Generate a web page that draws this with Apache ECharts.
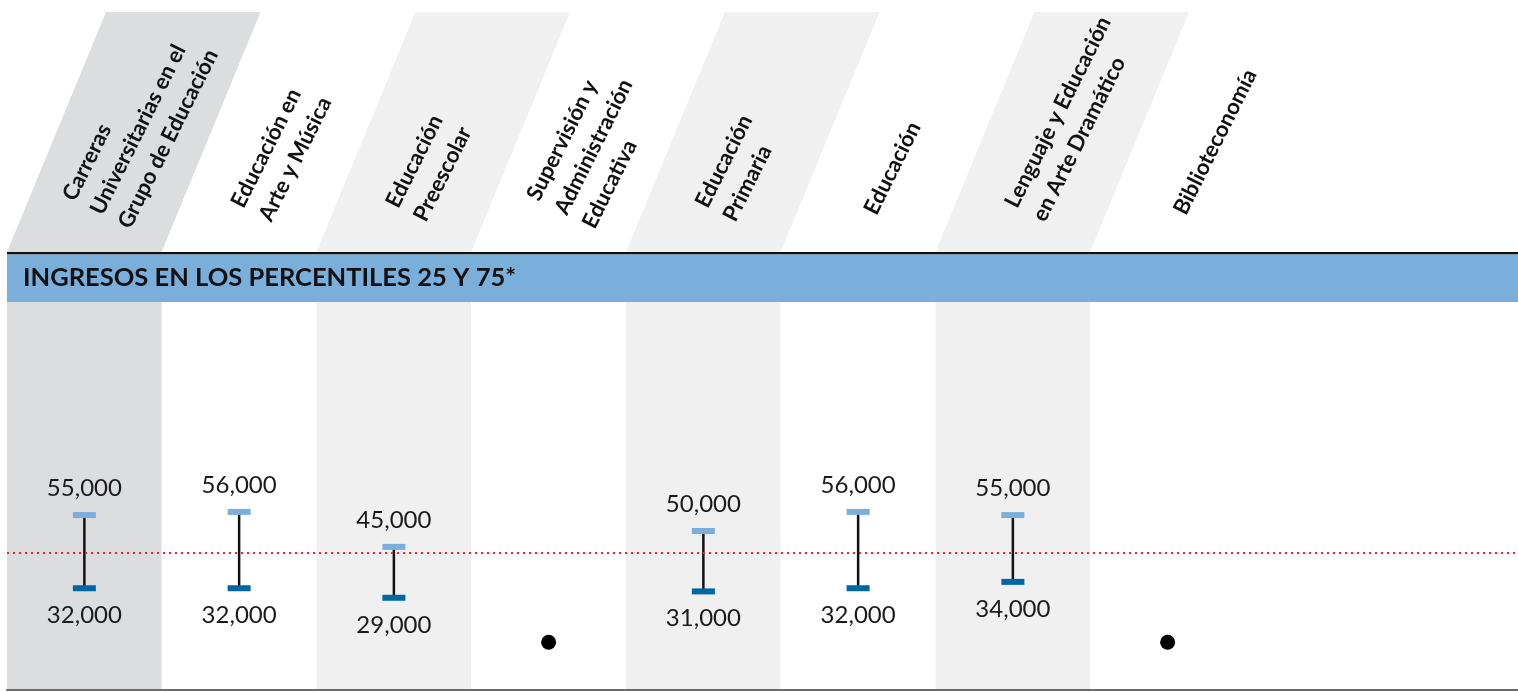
<!DOCTYPE html>
<html>
<head>
<meta charset="utf-8">
<script src="https://cdn.jsdelivr.net/npm/echarts@6/dist/echarts.min.js"></script>
<style>
  html, body { margin: 0; padding: 0; background: #fff; }
  #chart { width: 1518px; height: 692px; }
</style>
</head>
<body>
<div id="chart"></div>
<script>
// categorías (encabezados inclinados)
var categories = [
  "Carreras\nUniversitarias en el\nGrupo de Educación",
  "Educación en\nArte y Música",
  "Educación\nPreescolar",
  "Supervisión y\nAdministración\nEducativa",
  "Educación\nPrimaria",
  "Educación",
  "Lenguaje y Educación\nen Arte Dramático",
  "Biblioteconomía"
];
// percentil 75 y 25 (null = sin datos)
var p75 = [55000, 56000, 45000, null, 50000, 56000, 55000, null];
var p25 = [32000, 32000, 29000, null, 31000, 32000, 34000, null];
// línea de referencia roja punteada
var referenceLine = 43000;
// nivel donde se dibuja el punto de "sin datos"
var noDataLevel = 15000;

var bandShade = ["#dcdddf", "#ffffff", "#f0f0f0", "#ffffff", "#f0f0f0", "#ffffff", "#f0f0f0", "#ffffff"];
var FONT = "Lato, 'Open Sans', sans-serif";
var ANGLE = 63.4 * Math.PI / 180;

var chart = echarts.init(document.getElementById("chart"));

var rangeData = [];
var missingData = [];
categories.forEach(function (c, i) {
  if (p75[i] == null) {
    missingData.push([i, noDataLevel]);
  } else {
    rangeData.push([i, p25[i], p75[i]]);
  }
});

function fmt(v) {
  return v.toLocaleString("en-US");
}

var option = {
  animation: false,
  grid: { left: 7, right: 0, top: 302, bottom: 2 },
  xAxis: {
    type: "value",
    z: 5,
    min: -0.5,
    max: -0.5 + (1518 - 7) / 154.75,
    axisLine: { show: true, onZero: false, lineStyle: { color: "#6b6b6b", width: 2 } },
    axisTick: { show: false },
    axisLabel: { show: false },
    splitLine: { show: false }
  },
  yAxis: {
    type: "value",
    min: 0,
    max: 122000,
    show: false,
    splitLine: { show: false }
  },
  graphic: [
    // línea negra y franja azul del título
    { type: "rect", z: 10, shape: { x: 7, y: 252, width: 1511, height: 2.5 }, style: { fill: "#111" } },
    { type: "rect", z: 10, shape: { x: 7, y: 254.5, width: 1511, height: 47.5 }, style: { fill: "#7aaedb" } },
    {
      type: "text", z: 11, x: 23, y: 278,
      style: {
        text: "INGRESOS EN LOS PERCENTILES 25 Y 75*",
        fill: "#111", font: "bold 25.5px " + FONT,
        align: "left", verticalAlign: "middle"
      }
    }
  ],
  series: [
    {
      // columnas de fondo y encabezados inclinados
      type: "custom",
      z: 1,
      data: categories.map(function (c, i) { return [i]; }),
      renderItem: function (params, api) {
        var i = api.value(0);
        var cs = params.coordSys;
        var cx = api.coord([i, 0])[0];
        var bw = api.size([1, 0])[0];
        var left = cx - bw / 2, right = cx + bw / 2;
        var hb = cs.y - 50, ht = 12, slant = 99;
        return {
          type: "group",
          children: [
            {
              type: "rect",
              shape: { x: left, y: cs.y, width: bw, height: cs.height },
              style: { fill: bandShade[i] }
            },
            {
              type: "polygon",
              shape: { points: [[left, hb], [right, hb], [right + slant, ht], [left + slant, ht]] },
              style: { fill: bandShade[i] }
            },
            {
              type: "text",
              x: cx + 12,
              y: 213,
              rotation: ANGLE,
              style: {
                text: categories[i],
                fill: "#111",
                font: "bold 22px " + FONT,
                lineHeight: 31,
                align: "left",
                verticalAlign: "middle"
              }
            }
          ]
        };
      },
      markLine: {
        silent: true,
        symbol: "none",
        label: { show: false },
        lineStyle: { color: "#e8262c", type: [2, 4], width: 2.2 },
        data: [{ yAxis: referenceLine }]
      }
    },
    {
      // rango entre percentil 25 y 75
      type: "custom",
      z: 3,
      data: rangeData,
      renderItem: function (params, api) {
        var x = api.coord([api.value(0), 0])[0];
        var lo = api.coord([api.value(0), api.value(1)])[1];
        var hi = api.coord([api.value(0), api.value(2)])[1];
        var cw = 23, ch = 6;
        return {
          type: "group",
          children: [
            {
              type: "line",
              shape: { x1: x, y1: hi, x2: x, y2: lo },
              style: { stroke: "#111", lineWidth: 2.5 }
            },
            {
              type: "rect",
              shape: { x: x - cw / 2, y: hi - ch / 2, width: cw, height: ch },
              style: { fill: "#7aaedb" }
            },
            {
              type: "rect",
              shape: { x: x - cw / 2, y: lo - ch / 2, width: cw, height: ch },
              style: { fill: "#0067a5" }
            },
            {
              type: "text",
              x: x, y: hi - 27,
              style: {
                text: fmt(api.value(2)), fill: "#1a1a1a",
                font: "24px " + FONT, align: "center", verticalAlign: "middle"
              }
            },
            {
              type: "text",
              x: x, y: lo + 27,
              style: {
                text: fmt(api.value(1)), fill: "#1a1a1a",
                font: "24px " + FONT, align: "center", verticalAlign: "middle"
              }
            }
          ]
        };
      }
    },
    {
      // sin datos
      type: "scatter",
      z: 3,
      symbolSize: 15,
      itemStyle: { color: "#000", opacity: 1 },
      data: missingData
    }
  ]
};

chart.setOption(option);
</script>
</body>
</html>
